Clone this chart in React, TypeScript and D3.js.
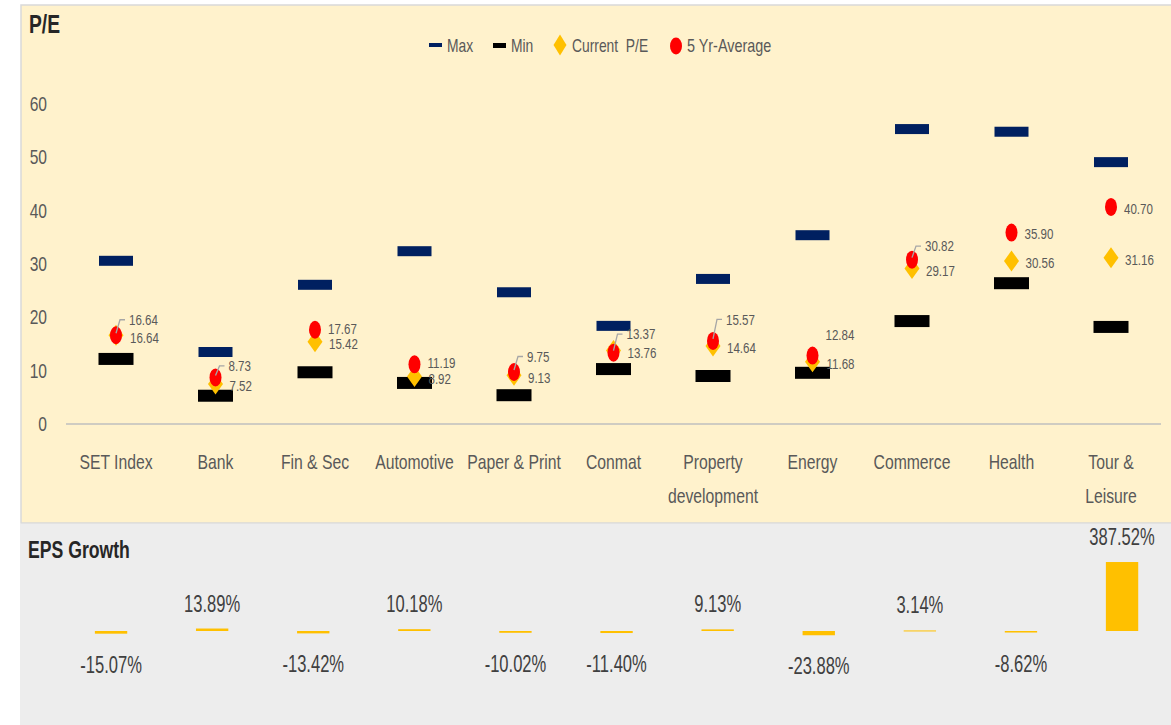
import React from "react";
import * as d3 from "d3";

const categories: string[][] = [
  ["SET Index"],
  ["Bank"],
  ["Fin & Sec"],
  ["Automotive"],
  ["Paper & Print"],
  ["Conmat"],
  ["Property", "development"],
  ["Energy"],
  ["Commerce"],
  ["Health"],
  ["Tour &", "Leisure"],
];
const maxPE = [30.6, 13.5, 26.1, 32.4, 24.7, 18.4, 27.2, 35.4, 55.3, 54.8, 49.1];
const minPE = [12.2, 5.3, 9.7, 7.7, 5.4, 10.3, 9.0, 9.6, 19.3, 26.4, 18.2];
const currentPE = [16.64, 7.52, 15.42, 8.92, 9.13, 13.76, 14.64, 11.68, 29.17, 30.56, 31.16];
const avgPE = [16.64, 8.73, 17.67, 11.19, 9.75, 13.37, 15.57, 12.84, 30.82, 35.9, 40.7];
const epsGrowth = [-15.07, 13.89, -13.42, 10.18, -10.02, -11.4, 9.13, -23.88, 3.14, -8.62, 387.52];
const yTicks = [0, 10, 20, 30, 40, 50, 60];

// label layout (styling only): upward shift of the 5-yr avg label, and whether a leader line is drawn
const avgLabelLift = [17, 13, 3, 3, 17, 20, 23, 22, 15, 0, 0];
const avgLabelLeader = [true, true, false, false, true, true, true, false, true, false, false];

const FONT = "'Liberation Sans', Arial, sans-serif";
const TXT = "#595959";
const NAVY = "#002060";
const GOLD = "#FFC000";
const RED = "#FF0000";

type TProps = {
  x: number;
  y: number;
  size: number;
  sx?: number;
  anchor?: "start" | "middle" | "end";
  weight?: string;
  fill?: string;
  dy?: string;
  lines?: string[];
  lineGap?: number;
  children?: React.ReactNode;
};

function T({ x, y, size, sx = 0.8, anchor = "start", weight = "normal", fill = TXT, dy, lines, lineGap = 0, children }: TProps) {
  return (
    <text
      transform={`translate(${x},${y}) scale(${sx},1)`}
      textAnchor={anchor}
      fontSize={size}
      fontWeight={weight}
      fill={fill}
      dy={dy}
      style={{ whiteSpace: "pre" }}
    >
      {lines
        ? lines.map((l, j) => (
            <tspan key={j} x={0} dy={j === 0 ? 0 : lineGap}>
              {l}
            </tspan>
          ))
        : children}
    </text>
  );
}

export default function App() {
  const idx = categories.map((_, i) => String(i));
  const x = d3.scaleBand<string>().domain(idx).range([66.25, 1160.75]);
  const y = d3.scaleLinear().domain([0, 60]).range([424, 104]);
  const x2 = d3.scaleBand<string>().domain(idx).range([60.5, 1172.6]).paddingInner(0.68).paddingOuter(0.34);
  const y2 = d3.scaleLinear().domain([0, 400]).range([631, 559.8]);
  const cx = (i: number) => (x(String(i)) as number) + x.bandwidth() / 2;

  const diamond = (px: number, py: number, w: number, h: number) =>
    `M${px},${py - h / 2}L${px + w / 2},${py}L${px},${py + h / 2}L${px - w / 2},${py}Z`;

  return (
    <svg width={1171} height={725} style={{ position: "absolute", left: 0, top: 0 }} fontFamily={FONT}>
      <rect x={0} y={0} width={1171} height={725} fill="#ffffff" />
      <rect x={21} y={5} width={1160} height={518} fill="#FFF2CC" stroke="#D9D9D9" strokeWidth={1.5} />
      <rect x={20} y={524} width={1151} height={201} fill="#EDEDED" />

      <T x={29} y={33} size={25} sx={0.77} weight="bold" fill="#262626">P/E</T>

      {/* legend */}
      <rect x={429} y={43} width={13} height={4} fill={NAVY} />
      <T x={447} y={52} size={18} sx={0.77}>Max</T>
      <rect x={493} y={43} width={13} height={5} fill="#000" />
      <T x={511} y={52} size={18} sx={0.77}>Min</T>
      <path d={diamond(560, 45, 13, 21)} fill={GOLD} />
      <T x={572} y={52} size={18} sx={0.77}>{"Current  P/E"}</T>
      <ellipse cx={676} cy={46} rx={6} ry={8.5} fill={RED} />
      <T x={687} y={52} size={18} sx={0.8}>5 Yr-Average</T>

      {/* y axis */}
      {yTicks.map((t) => (
        <T key={t} x={47} y={y(t)} dy="0.35em" anchor="end" size={20} sx={0.78}>
          {String(t)}
        </T>
      ))}
      <line x1={66} x2={1161} y1={y(0)} y2={y(0)} stroke="#BFBFBF" strokeWidth={1.5} />

      {/* category labels */}
      {categories.map((lines, i) => (
        <T key={i} x={cx(i)} y={469} anchor="middle" size={21} sx={0.75} lines={lines} lineGap={34} />
      ))}

      {/* markers */}
      {categories.map((_, i) => (
        <g key={i}>
          <rect x={cx(i) - 17} y={y(maxPE[i]) - 5} width={34} height={10} fill={NAVY} />
          <rect x={cx(i) - 17.5} y={y(minPE[i]) - 6} width={35} height={12} fill="#000" />
          <path d={diamond(cx(i), y(currentPE[i]), 15, 21)} fill={GOLD} />
          <ellipse cx={cx(i)} cy={y(avgPE[i])} rx={6} ry={9} fill={RED} />
        </g>
      ))}

      {/* data labels */}
      {categories.map((_, i) => {
        const px = cx(i);
        const ay = y(avgPE[i]);
        const ly = ay + 1.5 - avgLabelLift[i];
        return (
          <g key={i}>
            {avgLabelLeader[i] && avgLabelLift[i] > 0 && (
              <polyline
                points={`${px},${ay - 2} ${px + 4},${ly} ${px + 9},${ly}`}
                fill="none"
                stroke="#A6A6A6"
                strokeWidth={1.3}
              />
            )}
            <T x={px + 13} y={ly} dy="0.35em" size={15} sx={0.77}>{avgPE[i].toFixed(2)}</T>
            <T x={px + 14} y={y(currentPE[i]) + 2} dy="0.35em" size={15} sx={0.77}>{currentPE[i].toFixed(2)}</T>
          </g>
        );
      })}

      {/* EPS growth */}
      <T x={28} y={558} size={24} sx={0.735} weight="bold" fill="#262626">EPS Growth</T>
      {epsGrowth.map((v, i) => {
        const bx = x2(String(i)) as number;
        const bw = x2.bandwidth();
        const top = Math.min(y2(v), y2(0));
        const h = Math.abs(y2(v) - y2(0));
        const lc = bx + bw / 2;
        const ly = v >= 0 ? top - 17 : top + h + 39;
        return (
          <g key={i}>
            <rect x={bx} y={top} width={bw} height={Math.max(h, 1)} fill={GOLD} />
            <T x={lc} y={ly} anchor="middle" size={23} sx={0.72} fill="#404040">
              {`${v.toFixed(2)}%`}
            </T>
          </g>
        );
      })}
    </svg>
  );
}
